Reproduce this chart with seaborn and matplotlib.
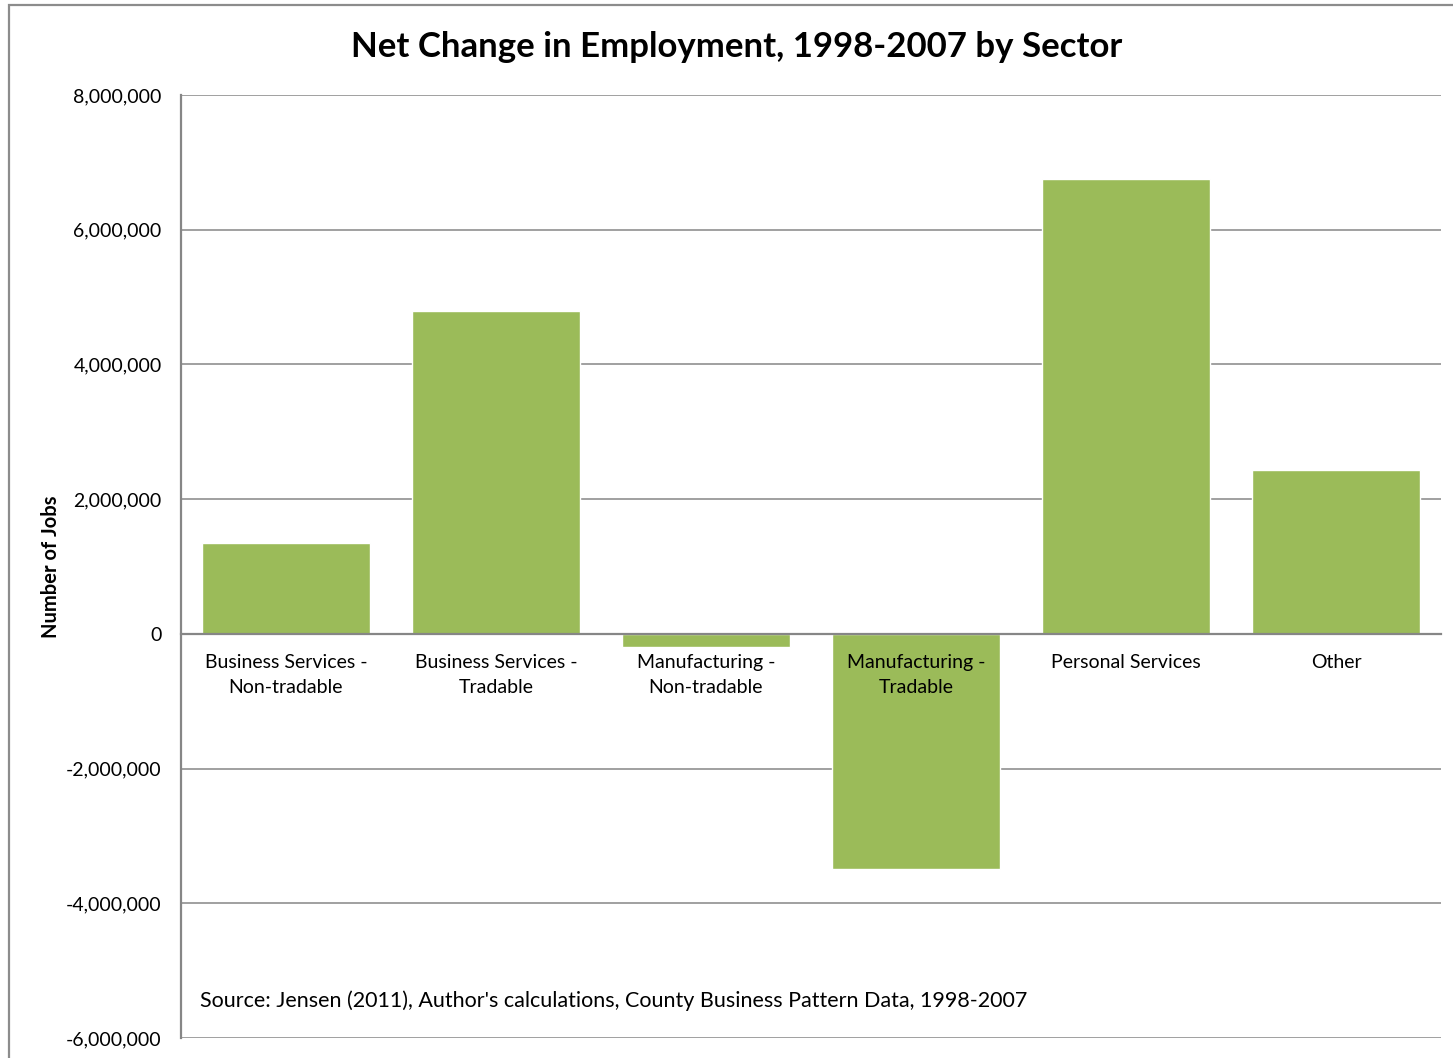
import matplotlib
matplotlib.use("Agg")
import matplotlib.pyplot as plt
from matplotlib.patches import Rectangle
from matplotlib.ticker import FuncFormatter
import seaborn as sns
import pandas as pd

# Net change in jobs by sector, 1998-2007
sectors = [
    "Business Services -\nNon-tradable",
    "Business Services -\nTradable",
    "Manufacturing -\nNon-tradable",
    "Manufacturing -\nTradable",
    "Personal Services",
    "Other",
]
net_change = [1351000, 4794000, -193000, -3488000, 6754000, 2434000]

y_ticks = [-6000000, -4000000, -2000000, 0, 2000000, 4000000, 6000000, 8000000]

df = pd.DataFrame({"sector": sectors, "jobs": net_change})

sns.set_theme(style="white")
plt.rcParams["font.family"] = ["Lato", "DejaVu Sans"]
plt.rcParams["text.color"] = "black"

W, H = 1453, 1058
fig = plt.figure(figsize=(W / 100, H / 100), dpi=100)
ax = fig.add_axes([181 / W, 1 - 1038 / H, (1441 - 181) / W, (1038 - 95) / H])

sns.barplot(data=df, x="sector", y="jobs", color="#9BBB59", saturation=1,
            width=0.8, ax=ax, zorder=3)

grid_c = "#868686"
ax.set_ylim(-6000000, 8000000)
ax.set_yticks(y_ticks)
ax.yaxis.set_major_formatter(FuncFormatter(lambda v, p: f"{int(v):,}"))
ax.yaxis.grid(True, color=grid_c, linewidth=1.1, zorder=0)
ax.set_axisbelow(True)

for side in ["top", "right"]:
    ax.spines[side].set_visible(False)
ax.spines["left"].set_color(grid_c)
ax.spines["left"].set_linewidth(1.6)
ax.spines["bottom"].set_position(("data", 0))
ax.spines["bottom"].set_color(grid_c)
ax.spines["bottom"].set_linewidth(1.6)
ax.spines["bottom"].set_zorder(4)

ax.tick_params(axis="y", length=0, pad=14, labelsize=14, labelcolor="black")
ax.tick_params(axis="x", length=0, labelbottom=False)

# category labels sit just under the zero line, drawn above the bars
for i, name in enumerate(df["sector"]):
    ax.annotate(name, xy=(i, 0), xytext=(0, -20), textcoords="offset pixels",
                ha="center", va="top", fontsize=14, linespacing=1.55,
                color="black", zorder=10, annotation_clip=False)

ax.set_xlabel("")
ax.set_ylabel("Number of Jobs", fontsize=14.5, fontweight="bold", color="black")
ax.yaxis.set_label_coords(-0.0955, 0.5)

ax.text(0.015, 0.04, "Source: Jensen (2011), Author's calculations, County Business Pattern Data, 1998-2007",
        transform=ax.transAxes, fontsize=15.5, va="center", ha="left", color="black")

fig.text(737 / W, 1 - 47 / H, "Net Change in Employment, 1998-2007 by Sector",
         ha="center", va="center", fontsize=25, fontweight="bold", color="black")

# outer chart frame
fig.patches.append(Rectangle((9 / W, -0.1), 1.2, (1 - 5 / H) + 0.1,
                             transform=fig.transFigure, fill=False,
                             edgecolor="#8c8c8c", linewidth=1.6))

fig.savefig("out.png", dpi=100)
